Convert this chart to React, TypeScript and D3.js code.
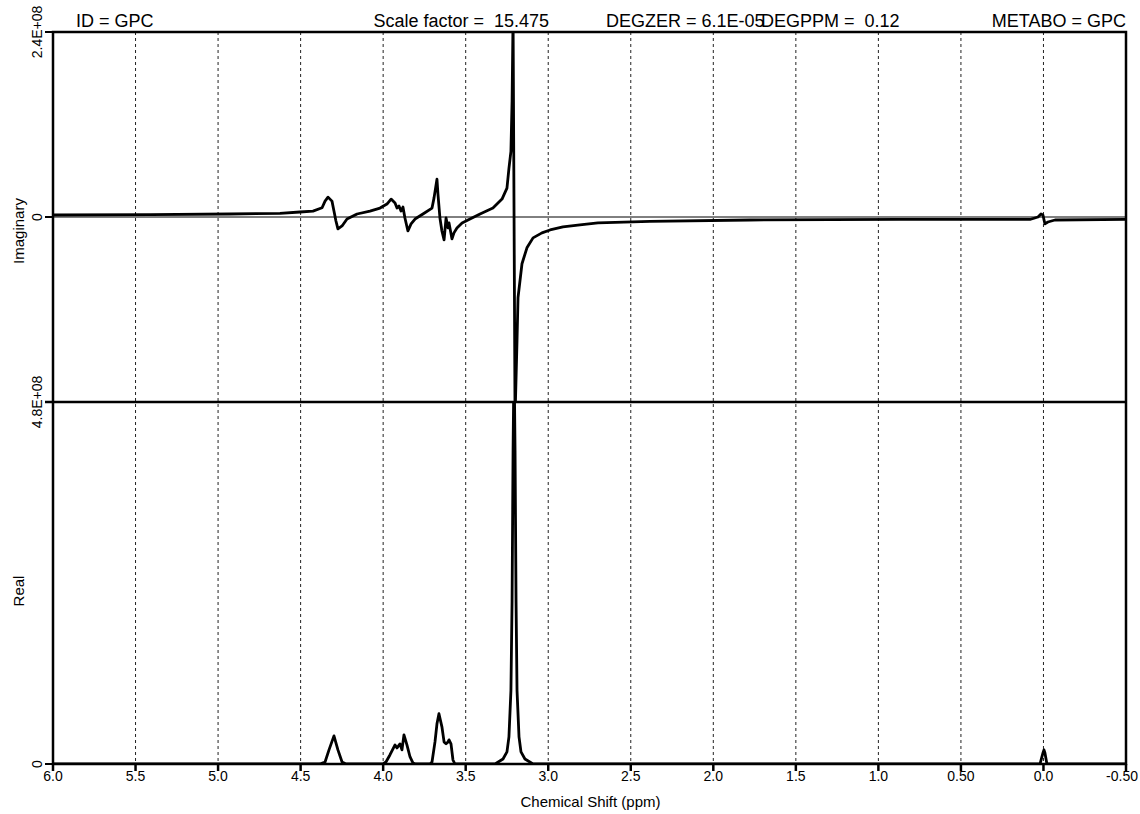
import React, { useEffect } from "react";
import * as d3 from "d3";

// header fields
const headerLeft = "ID = GPC";
const headerScale = "Scale factor =\u00A0 15.475";
const headerDegzer = "DEGZER = 6.1E-05";
const headerDegppm = "DEGPPM =\u00A0 0.12";
const headerRight = "METABO = GPC";

// x axis (ppm, reversed)
const xTicks = [6.0, 5.5, 5.0, 4.5, 4.0, 3.5, 3.0, 2.5, 2.0, 1.5, 1.0, 0.5, 0.0, -0.5];
const xTickLabels = ["6.0", "5.5", "5.0", "4.5", "4.0", "3.5", "3.0", "2.5", "2.0", "1.5", "1.0", "0.50", "0.0", "-0.50"];

// imaginary part, values in units of 1e8
const imagPpm = [
  6.0, 5.41, 4.93, 4.625, 4.504, 4.425, 4.37, 4.352, 4.334, 4.31, 4.298, 4.286, 4.274, 4.249, 4.219,
  4.158, 4.08, 4.019, 3.977, 3.952, 3.928, 3.916, 3.904, 3.892, 3.88, 3.868, 3.85, 3.831, 3.807,
  3.759, 3.704, 3.692, 3.674, 3.668, 3.656, 3.644, 3.631, 3.619, 3.607, 3.601, 3.583, 3.571, 3.553,
  3.522, 3.474, 3.413, 3.335, 3.28, 3.25, 3.238, 3.226, 3.219, 3.213, 3.201, 3.189, 3.183, 3.159,
  3.129, 3.092, 3.038, 2.989, 2.911, 2.808, 2.699, 2.384, 1.778, 0.869, 0.082, 0.033, 0.015, 0.003,
  -0.009, -0.027, -0.07, -0.5,
];
const imagVal = [
  0.026, 0.032, 0.039, 0.048, 0.065, 0.077, 0.12, 0.206, 0.258, 0.206, 0.077, -0.052, -0.155, -0.116, -0.026,
  0.039, 0.077, 0.116, 0.168, 0.232, 0.181, 0.116, 0.142, 0.077, 0.129, -0.013, -0.181, -0.09, -0.026,
  0.039, 0.116, 0.245, 0.49, 0.297, -0.013, -0.181, -0.297, -0.013, -0.142, -0.077, -0.284, -0.206, -0.142,
  -0.077, -0.026, 0.039, 0.116, 0.232, 0.374, 0.632, 0.852, 1.5, 2.6, -2.6, -1.6, -1.045, -0.606,
  -0.4, -0.271, -0.206, -0.168, -0.129, -0.103, -0.077, -0.058, -0.039, -0.032, -0.032, 0.0, 0.039, 0.026,
  -0.09, -0.065, -0.039, -0.032,
];

// real part, values in units of 1e8
const realPpm = [
  6.0, 4.383, 4.352, 4.328, 4.298, 4.274, 4.249, 4.225,
  4.001, 3.983, 3.959, 3.928, 3.916, 3.898, 3.886, 3.874, 3.856, 3.837, 3.819, 3.801,
  3.716, 3.704, 3.686, 3.674, 3.662, 3.644, 3.631, 3.619, 3.607, 3.601, 3.589, 3.577, 3.565,
  3.322, 3.274, 3.25, 3.238, 3.226, 3.219, 3.213, 3.207, 3.201, 3.195, 3.189, 3.177, 3.165, 3.141, 3.092,
  0.021, 0.003, -0.003, -0.009, -0.021, -0.5,
];
const realVal = [
  0, 0, 0.027, 0.187, 0.373, 0.187, 0.027, 0,
  0, 0.027, 0.12, 0.253, 0.213, 0.267, 0.187, 0.387, 0.253, 0.093, 0.013, 0,
  0, 0.027, 0.293, 0.533, 0.667, 0.493, 0.293, 0.267, 0.293, 0.32, 0.267, 0.053, 0,
  0, 0.067, 0.16, 0.36, 0.973, 2.16, 4.16, 5.4, 4.16, 2.16, 0.973, 0.36, 0.16, 0.067, 0,
  0, 0.147, 0.187, 0.147, 0, 0,
];

const W = 1140;
const H = 814;
const left = 53;
const right = 1126;
const top = 32;
const mid = 402;
const bottom = 764;
const font = "'Liberation Sans', Arial, sans-serif";

export default function App() {
  useEffect(() => {
    document.body.style.margin = "0";
  }, []);

  const x = d3.scaleLinear().domain([6.0, -0.5]).range([left, right]);
  const yImag = d3.scaleLinear().domain([-2.4, 2.4]).range([mid, top]);
  const yReal = d3.scaleLinear().domain([0, 4.8]).range([bottom, mid]);

  const imagLine = d3
    .line<number>()
    .x((_, i) => x(imagPpm[i]))
    .y((d) => yImag(d));
  const realLine = d3
    .line<number>()
    .x((_, i) => x(realPpm[i]))
    .y((d) => yReal(d));

  const grid = xTicks.filter((t) => t < 6.0 && t > -0.5);
  const last = xTicks.length - 1;

  return (
    <svg width={W} height={H} style={{ display: "block", background: "#fff" }} fontFamily={font}>
      <defs>
        <clipPath id="clipTop">
          <rect x={left} y={top} width={right - left} height={mid - top} />
        </clipPath>
        <clipPath id="clipBottom">
          <rect x={left} y={mid} width={right - left} height={bottom - mid} />
        </clipPath>
      </defs>

      {/* header */}
      <g fontSize={18} fill="#000">
        <text x={76} y={27}>{headerLeft}</text>
        <text x={549} y={27} textAnchor="end">{headerScale}</text>
        <text x={606} y={27}>{headerDegzer}</text>
        <text x={761} y={27}>{headerDegppm}</text>
        <text x={1126} y={27} textAnchor="end">{headerRight}</text>
      </g>

      {/* dashed grid */}
      {grid.map((t) => (
        <line key={t} x1={x(t)} x2={x(t)} y1={top} y2={bottom}
          stroke="#222" strokeWidth={1} strokeDasharray="3,3" />
      ))}

      {/* imaginary zero line */}
      <line x1={left} x2={right} y1={yImag(0)} y2={yImag(0)} stroke="#000" strokeWidth={1} />

      {/* traces */}
      <path d={imagLine(imagVal) ?? ""} fill="none" stroke="#000" strokeWidth={2.8}
        strokeLinejoin="round" clipPath="url(#clipTop)" />
      <path d={realLine(realVal) ?? ""} fill="none" stroke="#000" strokeWidth={2.8}
        strokeLinejoin="round" clipPath="url(#clipBottom)" />

      {/* frame */}
      <rect x={left} y={top} width={right - left} height={bottom - top} fill="none" stroke="#000" strokeWidth={2.5} />
      <line x1={left - 8} x2={right} y1={mid} y2={mid} stroke="#000" strokeWidth={2.5} />

      {/* y ticks */}
      {[
        { y: top, label: "2.4E+08" },
        { y: yImag(0), label: "0" },
        { y: mid, label: "4.8E+08" },
        { y: yReal(0), label: "0" },
      ].map((d, i) => (
        <g key={i}>
          <line x1={left - 8} x2={left} y1={d.y} y2={d.y} stroke="#000" strokeWidth={2} />
          <text transform={`translate(42,${d.y}) rotate(-90)`} textAnchor="middle" fontSize={14}>
            {d.label}
          </text>
        </g>
      ))}

      {/* x ticks */}
      {xTicks.map((t, i) => (
        <g key={t}>
          <line x1={x(t)} x2={x(t)} y1={bottom} y2={bottom + 7} stroke="#000" strokeWidth={2.5} />
          <text x={i === last ? W - 2 : x(t)} y={bottom + 17}
            textAnchor={i === last ? "end" : "middle"} fontSize={14}>
            {xTickLabels[i]}
          </text>
        </g>
      ))}

      {/* axis titles */}
      <text x={(left + right) / 2 + 1} y={807} textAnchor="middle" fontSize={15}>Chemical Shift (ppm)</text>
      <text transform={`translate(24,${yImag(0) + 14}) rotate(-90)`} textAnchor="middle" fontSize={15}>Imaginary</text>
      <text transform={`translate(24,${(mid + bottom) / 2 + 8}) rotate(-90)`} textAnchor="middle" fontSize={15}>Real</text>
    </svg>
  );
}
